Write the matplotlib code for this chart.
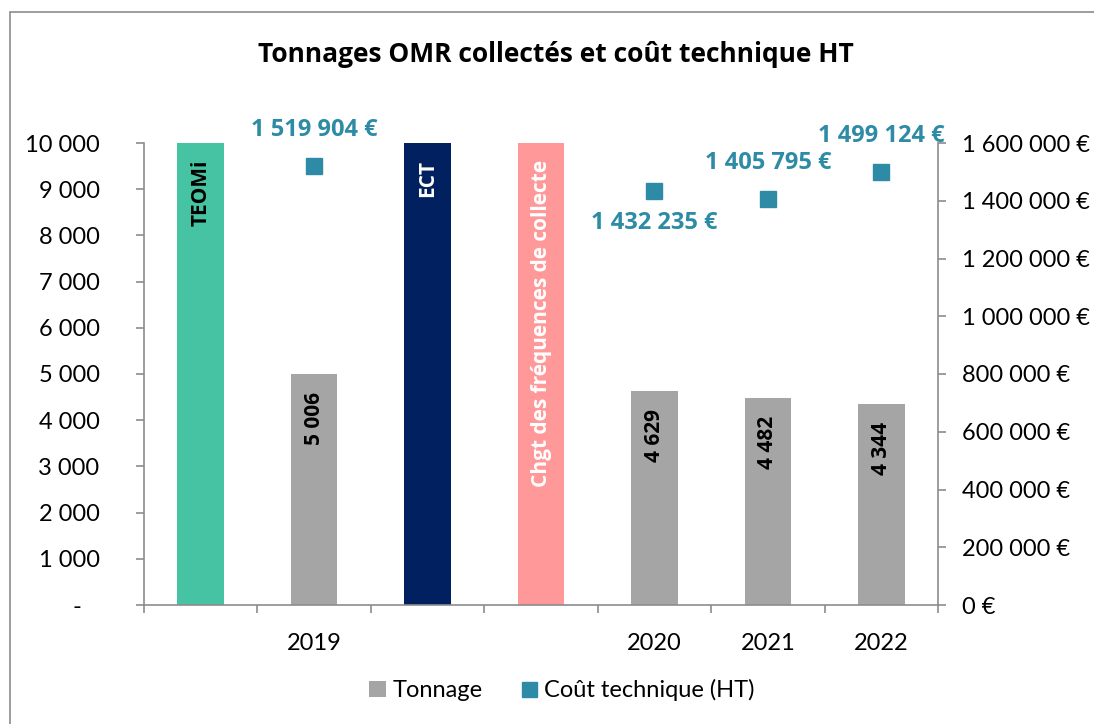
import numpy as np
import matplotlib.pyplot as plt
from matplotlib.patches import Rectangle
from matplotlib.ticker import FuncFormatter

plt.rcParams['font.family'] = ['Lato', 'DejaVu Sans']

# slots on the category axis
slot_labels = ['', '2019', '', '', '2020', '2021', '2022']
event_slots = [0, 2, 3]
event_names = ['TEOMi', 'ECT', 'Chgt des fréquences de collecte']
event_colors = ['#45C3A3', '#00205F', '#FF9999']
event_text_colors = ['black', 'white', 'white']
event_height = 10000

year_slots = [1, 4, 5, 6]
tonnage = [5006, 4629, 4482, 4344]
cout = [1519904, 1432235, 1405795, 1499124]
cout_above = [True, False, True, True]

gray = '#A5A5A5'
teal = '#2E8BA5'
axcol = '#8C8C8C'
bold_font = ['Open Sans', 'DejaVu Sans']

def fr(v):
    return f'{int(round(v)):,}'.replace(',', ' ')

fig = plt.figure(figsize=(10.94, 7.24), dpi=100)
fig.patches.append(Rectangle((10/1094, -0.05), 1.2, 1 - 12/724 + 0.05,
                             transform=fig.transFigure, fill=False,
                             edgecolor='#8C8C8C', linewidth=1.2))

ax = fig.add_axes([144/1094, 1 - 605/724, 794/1094, 462/724])
width = 0.41

ax.bar(event_slots, [event_height]*3, width=width, color=event_colors, zorder=2)
bars = ax.bar(year_slots, tonnage, width=width, color=gray, zorder=2, label='Tonnage')

for x, name, tc in zip(event_slots, event_names, event_text_colors):
    ax.annotate(name, (x, event_height), xytext=(0, -12), textcoords='offset points',
                rotation=90, ha='center', va='top', fontsize=15, fontweight='bold',
                color=tc, family=bold_font)
for x, v in zip(year_slots, tonnage):
    ax.annotate(fr(v), (x, v), xytext=(0, -13), textcoords='offset points',
                rotation=90, ha='center', va='top', fontsize=15, fontweight='bold',
                color='black', family=bold_font)

ax.set_xlim(-0.5, 6.5)
ax.set_ylim(0, 10000)
ax.set_yticks(np.arange(0, 10001, 1000))
ax.yaxis.set_major_formatter(FuncFormatter(lambda v, p: '-   ' if v == 0 else fr(v)))
ax.set_xticks(np.arange(-0.5, 7, 1))
ax.set_xticklabels([])
ax.set_xticks(np.arange(7), minor=True)
ax.set_xticklabels(slot_labels, minor=True)
ax.tick_params(axis='x', which='major', length=6, width=1.2, color=axcol)
ax.tick_params(axis='x', which='minor', length=0, pad=20, labelsize=17)
ax.tick_params(axis='y', length=6, width=1.2, color=axcol, labelsize=17, pad=26)
for s in ['top', 'right']:
    ax.spines[s].set_visible(False)
for s in ['left', 'bottom']:
    ax.spines[s].set_color(axcol)
    ax.spines[s].set_linewidth(1.2)

ax2 = ax.twinx()
ax2.set_ylim(0, 1600000)
ax2.set_yticks(np.arange(0, 1600001, 200000))
ax2.yaxis.set_major_formatter(FuncFormatter(lambda v, p: fr(v) + ' €'))
ax2.tick_params(axis='y', length=6, width=1.2, color=axcol, labelsize=17, pad=11)
for s in ['top', 'left', 'bottom']:
    ax2.spines[s].set_visible(False)
ax2.spines['right'].set_color(axcol)
ax2.spines['right'].set_linewidth(1.2)
sc = ax2.plot(year_slots, cout, 's', color=teal, markersize=12, zorder=3,
              label='Coût technique (HT)')[0]
for x, v, up in zip(year_slots, cout, cout_above):
    ax2.annotate(fr(v) + ' €', (x, v), xytext=(0, 26 if up else -23),
                 textcoords='offset points', ha='center', va='center',
                 fontsize=17, fontweight='bold', color=teal,
                 family=bold_font, annotation_clip=False)

fig.text(556/1094, 1 - 55/724, 'Tonnages OMR collectés et coût technique HT',
         ha='center', va='center', fontsize=19, fontweight='bold', family=bold_font)

fig.legend([bars, sc], ['Tonnage', 'Coût technique (HT)'], loc='center',
           bbox_to_anchor=(562/1094, 1 - 690/724), ncol=2, frameon=False,
           fontsize=17, handlelength=0.7, handleheight=0.7, handletextpad=0.3,
           columnspacing=1.6, markerscale=0.9)

fig.savefig('out.png', dpi=100)
